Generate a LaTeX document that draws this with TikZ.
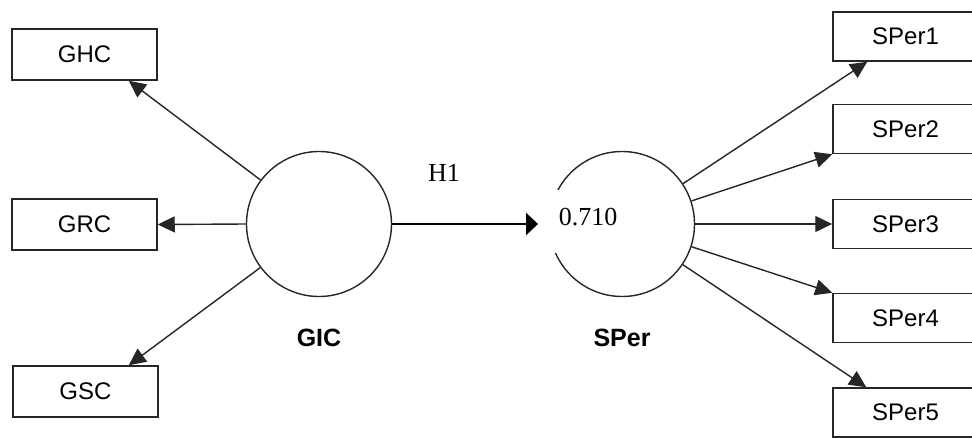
\documentclass[tikz,border=0pt]{standalone}
\usepackage{fontspec}
\setmainfont{Liberation Sans}
\newfontfamily\tnrfont{Liberation Serif}
\usetikzlibrary{arrows.meta}
\begin{document}
\begin{tikzpicture}[x=1pt,y=-1pt,
  ind/.style={draw=black!85,line width=1.5pt,rectangle,minimum width=145pt,inner sep=0pt,font=\fontsize{24}{28}\selectfont},
  lat/.style={draw=black!85,line width=1.4pt,circle,minimum size=145pt,inner sep=0pt},
  latlbl/.style={font=\fontsize{25}{30}\selectfont\bfseries,inner sep=0pt},
  serifl/.style={font=\tnrfont\fontsize{26}{30}\selectfont},
  ld/.style={draw=black!85,line width=1.4pt,-{Triangle[length=17pt,width=16pt]}},
  path/.style={draw=black,line width=2.8pt,-{Triangle[length=12pt,width=22pt]}}]
\useasboundingbox (0,0) rectangle (972,437);
\clip (0,0) rectangle (972,437);
% indicator boxes (left)
\node[ind,minimum height=51pt] (ghc) at (84.5,54.5) {GHC};
\node[ind,minimum height=51pt] (grc) at (84.5,224.5) {GRC};
\node[ind,minimum height=51pt] (gsc) at (85.5,391.5) {GSC};
% indicator boxes (right)
\node[ind,minimum height=49pt] (s1) at (905.5,36.5) {SPer1};
\node[ind,minimum height=49pt] (s2) at (905.5,129) {SPer2};
\node[ind,minimum height=49pt] (s3) at (905.5,224) {SPer3};
\node[ind,minimum height=49pt] (s4) at (905.5,318) {SPer4};
\node[ind,minimum height=49pt] (s5) at (905.5,412.5) {SPer5};
% latent variables
\node[lat] (gic) at (319,224) {};
\node[lat] (sper) at (622,224) {};
\node[latlbl] (gicl) at (319,338) {GIC};
\node[latlbl] (sperl) at (622,338) {SPer};
\node[serifl,fill=white,inner xsep=12pt,inner ysep=17.5pt,text height=18pt,text depth=10pt] (r2) at (588,221) {0.710};
% outer loadings
\draw[ld] (gic) -- ([xshift=-29pt]ghc.south east);
\draw[ld] (gic.west) -- (grc.east);
\draw[ld] (gic) -- ([xshift=-30pt]gsc.north east);
\draw[ld] (sper) -- ([xshift=35pt]s1.south west);
\draw[ld] (sper) -- (s2.south west);
\draw[ld] (sper.east) -- (s3.west);
\draw[ld] (sper) -- (s4.north west);
\draw[ld] (sper) -- ([xshift=34pt]s5.north west);
% structural path
\coordinate (h1tip) at (538,224);
\draw[path] (gic.east) -- (h1tip);
\node[serifl,inner sep=0pt] (h1) at (444,173) {H1};
\end{tikzpicture}
\end{document}
